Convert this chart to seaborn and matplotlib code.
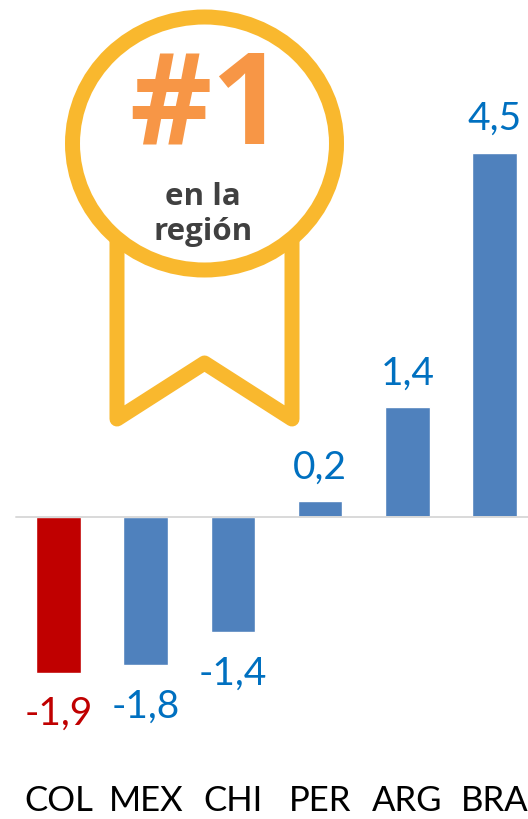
import matplotlib
matplotlib.use("Agg")
import matplotlib.pyplot as plt
from matplotlib.patches import Ellipse, Polygon
import pandas as pd
import seaborn as sns

categories = ["COL", "MEX", "CHI", "PER", "ARG", "BRA"]
values = [-1.92, -1.83, -1.42, 0.2, 1.36, 4.5]
value_labels = ["-1,9", "-1,8", "-1,4", "0,2", "1,4", "4,5"]
bar_colors = ["#C00000", "#4F81BD", "#4F81BD", "#4F81BD", "#4F81BD", "#4F81BD"]
label_colors = ["#C00000", "#0070C0", "#0070C0", "#0070C0", "#0070C0", "#0070C0"]

W, H = 528, 819
sns.set_theme(style="white")
plt.rcParams["font.family"] = ["Lato", "DejaVu Sans"]

fig = plt.figure(figsize=(W / 100, H / 100), dpi=100, facecolor="white")
axes_bottom_px = 785
ax = fig.add_axes([0, 1 - axes_bottom_px / H, 1, axes_bottom_px / H])

df = pd.DataFrame({"pais": categories, "valor": values})
sns.barplot(data=df, x="pais", y="valor", hue="pais", palette=bar_colors,
            width=0.51, legend=False, saturation=1, ax=ax, zorder=2)

px_per_unit = 81.0
zero_px = 517.0
ax.set_ylim((zero_px - axes_bottom_px) / px_per_unit, zero_px / px_per_unit)
ax.set_xlim(-0.671, 5.384)
ax.axhline(0, xmin=0.03, xmax=1, color="#D9D9D9", lw=1.4, zorder=3)

for container, lab, col, val in zip(ax.containers, value_labels, label_colors, values):
    ax.bar_label(container, labels=[lab], padding=17 if val < 0 else 11,
                 color=col, fontsize=28)

ax.set_xlabel("")
ax.set_ylabel("")
ax.set_yticks([])
ax.set_xticks(range(len(categories)))
ax.set_xticklabels(categories, fontsize=25, color="black")
ax.tick_params(axis="x", length=0, pad=0)
for s in ax.spines.values():
    s.set_visible(False)
ax.patch.set_alpha(0)

# Medal overlay, in pixel coordinates
ov = fig.add_axes([0, 0, 1, 1], zorder=5)
ov.set_xlim(0, W)
ov.set_ylim(H, 0)
ov.axis("off")
gold = "#F9B82E"
ov.add_patch(Polygon([(117, 240), (117, 419), (204.5, 363), (292, 419), (292, 240)],
                     closed=False, fill=False, ec=gold, lw=10.8, joinstyle="round",
                     capstyle="round"))
ov.add_patch(Ellipse((204.5, 143.5), 264, 253, fc="white", ec=gold, lw=10.8))
ov.text(207, 144, "#1", color="#F79646", fontsize=92, fontweight="bold",
        family="Open Sans", ha="center", va="baseline")
ov.text(203, 205, "en la", color="#404040", fontsize=22.5, fontweight="bold",
        family="Open Sans", ha="center", va="baseline")
ov.text(203, 240, "región", color="#404040", fontsize=22.5, fontweight="bold",
        family="Open Sans", ha="center", va="baseline")

fig.savefig("out.png", dpi=100)
